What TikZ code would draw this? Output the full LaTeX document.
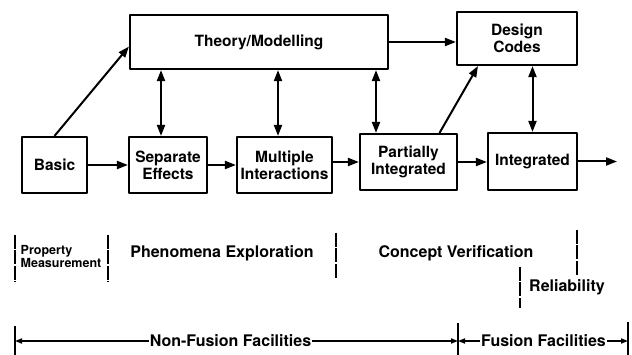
\documentclass[tikz,border=0pt]{standalone}
\usepackage{fontspec}
\setmainfont{TeX Gyre Heros}
\usetikzlibrary{arrows.meta}

\tikzset{
  stage/.style={draw,line width=2.1pt,inner sep=2pt,align=center,font=\fontsize{15.5}{17}\selectfont\bfseries},
  link/.style={->,line width=2pt},
  both/.style={<->,line width=2pt},
  phase/.style={inner sep=1pt,font=\fontsize{16}{17}\selectfont\bfseries},
  small/.style={inner sep=1pt,align=left,font=\fontsize{12.5}{13}\selectfont\bfseries},
  fence/.style={line width=1.8pt,dash pattern=on 14pt off 1.5pt},
  span/.style={->,line width=1.6pt,>={Stealth[length=7pt,width=5pt,inset=0pt]}},
}

\begin{document}
\begin{tikzpicture}[x=1pt,y=-1pt,>={Stealth[length=11pt,width=8pt,inset=0pt]},line join=round]
	\useasboundingbox (0,0) rectangle (632,355);
	% upper chain
	\node[stage,minimum width=258pt,minimum height=54pt] (theory) at (259,42) {Theory/Modelling};
	\node[stage,minimum width=120pt,minimum height=53pt] (codes) at (517,38.5) {Design\\Codes};
	\node[stage,minimum width=65pt,minimum height=56pt] (basic) at (54.5,165) {Basic};
	\node[stage,minimum width=78pt,minimum height=56pt] (sep) at (168,165) {Separate\\Effects};
	\node[stage,minimum width=95pt,minimum height=56pt] (mult) at (284.5,165) {Multiple\\Interactions};
	\node[stage,minimum width=97pt,minimum height=56pt] (part) at (408.5,162) {Partially\\Integrated};
	\node[stage,minimum width=89pt,minimum height=57pt] (integ) at (532.5,161.5) {Integrated};
	\coordinate (out) at (617,161.5);
	\draw[link] (basic.north) -- (theory.182);
	\draw[link] (theory.east) -- (theory.east -| codes.west);
	\draw[link] (basic) -- (sep);
	\draw[link] (sep) -- (sep -| mult.west);
	\draw[link] (part.west -| mult.east) -- (part.west);
	\draw[link] (part.east) -- (part.east -| integ.west);
	\draw[link] (integ.east) -- (out);
	\draw[link] ([xshift=31pt]part.north) -- ([xshift=-39pt]codes.south);
	\path ([xshift=-7pt]sep.north) coordinate (s1)
		([xshift=-6.5pt]mult.north) coordinate (m1)
		([xshift=-32.5pt]part.north) coordinate (p1);
	\draw[both] (theory.south -| s1) -- (s1);
	\draw[both] (theory.south -| m1) -- (m1);
	\draw[both] (theory.south -| p1) -- (p1);
	\draw[both] (codes.south -| integ.north) -- (integ.north);
	% phases
	\node[small] (prop) at (61,256.5) {Property\\Measurement};
	\node[phase] (pheno) at (222,253) {Phenomena Exploration};
	\node[phase] (concept) at (456,253) {Concept Verification};
	\node[phase] (relia) at (567,287) {Reliability};
	\draw[fence] (15,235) -- (15,282);
	\draw[fence] (108,235) -- (108,282);
	\draw[fence] (336,233) -- (336,278);
	\draw[fence] (577,230) -- (577,275);
	\draw[fence] (520,267) -- (520,308);
	% facilities
	\node[phase] (nonfus) at (230.5,341) {Non-Fusion Facilities};
	\node[phase] (fus) at (543.5,341) {Fusion Facilities};
	\coordinate (f0) at (15,341);
	\coordinate (f1) at (458,341);
	\coordinate (f2) at (628,341);
	\draw[line width=1.8pt] (15,326) -- (15,355) (458,323) -- (458,355) (628,322) -- (628,355);
	\draw[span] (nonfus) -- (f0);
	\draw[span] (nonfus) -- (f1);
	\draw[span] (fus) -- (f1);
	\draw[span] (fus) -- (f2);
\end{tikzpicture}
\end{document}
